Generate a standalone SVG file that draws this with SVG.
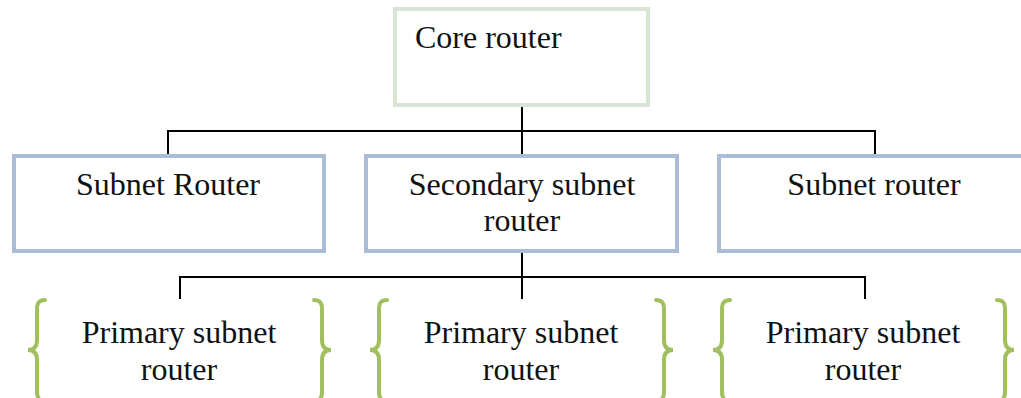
<svg xmlns="http://www.w3.org/2000/svg" width="1021" height="398" viewBox="0 0 1021 398">
  <style>
    .lbl { font-family: "Liberation Serif", "Times New Roman", serif; font-size: 32px; fill: #111; }
    .mid { text-anchor: middle; }
    .core { fill: #fff; stroke: #d9e5d4; stroke-width: 4; }
    .sub { fill: #fff; stroke: #abbdd6; stroke-width: 4; }
    .brace { fill: none; stroke: #a2bf5f; stroke-width: 4; stroke-linecap: round; }
    .wire { fill: none; stroke: #000; stroke-width: 2; }
  </style>
  <defs>
    <!-- opening and closing curly braces, tip at (0,50) relative to top y=0 -->
    <path id="lbrace" d="M 17 0 C 11 0 9 3 9 9 L 9 40 C 9 47 6 50 0 50 C 6 50 9 53 9 60 L 9 92 C 9 98 11 101 17 101"/>
    <path id="rbrace" d="M 0 0 C 6 0 8 3 8 9 L 8 40 C 8 47 11 50 17 50 C 11 50 8 53 8 60 L 8 92 C 8 98 6 101 0 101"/>
  </defs>

  <rect width="1021" height="398" fill="#fff"/>

  <g id="connectors">
    <!-- core to first tier -->
    <path class="wire" d="M 522 107 L 522 154"/>
    <path class="wire" d="M 168 154 L 168 131 L 875 131 L 875 154"/>
    <!-- secondary router to primary tier -->
    <path class="wire" d="M 522 253 L 522 299"/>
    <path class="wire" d="M 180 299 L 180 277 L 865 277 L 865 299"/>
  </g>

  <g id="core-router">
    <rect class="core" x="395" y="9" width="253" height="96"/>
    <text class="lbl" x="415" y="48">Core router</text>
  </g>

  <g id="subnet-router-left">
    <rect class="sub" x="14" y="156" width="310" height="95"/>
    <text class="lbl mid" x="168" y="195">Subnet Router</text>
  </g>

  <g id="secondary-subnet-router">
    <rect class="sub" x="366" y="156" width="311" height="95"/>
    <text class="lbl mid" x="522" y="195">Secondary subnet</text>
    <text class="lbl mid" x="522" y="231">router</text>
  </g>

  <g id="subnet-router-right">
    <rect class="sub" x="719" y="156" width="320" height="95"/>
    <text class="lbl mid" x="874" y="195">Subnet router</text>
  </g>

  <g id="primary-subnet-router-1">
    <use href="#lbrace" class="brace" x="28" y="300"/>
    <use href="#rbrace" class="brace" x="314" y="300"/>
    <text class="lbl mid" x="179" y="343">Primary subnet</text>
    <text class="lbl mid" x="179" y="380">router</text>
  </g>

  <g id="primary-subnet-router-2">
    <use href="#lbrace" class="brace" x="370" y="300"/>
    <use href="#rbrace" class="brace" x="656" y="300"/>
    <text class="lbl mid" x="521" y="343">Primary subnet</text>
    <text class="lbl mid" x="521" y="380">router</text>
  </g>

  <g id="primary-subnet-router-3">
    <use href="#lbrace" class="brace" x="713" y="300"/>
    <use href="#rbrace" class="brace" x="997" y="300"/>
    <text class="lbl mid" x="863" y="343">Primary subnet</text>
    <text class="lbl mid" x="863" y="380">router</text>
  </g>
</svg>
